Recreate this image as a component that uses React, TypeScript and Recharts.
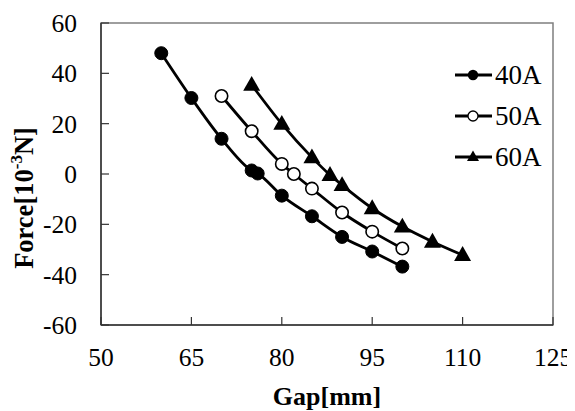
import React from 'react';
import { LineChart, Line, XAxis, YAxis, Legend, ReferenceArea } from 'recharts';

const gap40 = [60, 65, 70, 75, 76, 80, 85, 90, 95, 100];
const force40 = [48, 30.2, 14, 1.4, 0.2, -8.6, -16.8, -25, -30.8, -36.8];
const gap50 = [70, 75, 80, 82, 85, 90, 95, 100];
const force50 = [31, 17, 4, 0, -5.8, -15.3, -22.9, -29.6];
const gap60 = [75, 80, 85, 88, 90, 95, 100, 105, 110];
const force60 = [35.4, 19.9, 6.6, -0.4, -4.4, -13.6, -20.9, -26.9, -32.2];

const xTicks = [50, 65, 80, 95, 110, 125];
const yTicks = [-60, -40, -20, 0, 20, 40, 60];
const seriesNames = ['40A', '50A', '60A'];

const toData = (xs: number[], ys: number[]) => xs.map((x, i) => ({ x, y: ys[i] }));
const data40 = toData(gap40, force40);
const data50 = toData(gap50, force50);
const data60 = toData(gap60, force60);

const FONT = '"Liberation Serif", "Times New Roman", serif';
const FS = 25.5;

const FilledDot = (p: any) => <circle key={p.key} cx={p.cx} cy={p.cy} r={6.5} fill="#000" stroke="#000" strokeWidth={1} />;
const OpenDot = (p: any) => <circle key={p.key} cx={p.cx} cy={p.cy} r={6.2} fill="#fff" stroke="#000" strokeWidth={1.6} />;
const TriDot = (p: any) => {
  const s = 8.5;
  const { cx, cy } = p;
  return <path key={p.key} d={`M${cx},${cy - s * 1.05} L${cx + s},${cy + s * 0.7} L${cx - s},${cy + s * 0.7} Z`} fill="#000" />;
};

const XTick = (p: any) => (
  <text x={p.x} y={p.y + 49} textAnchor="middle" fontFamily={FONT} fontSize={FS} fill="#000">{p.payload.value}</text>
);
const YTick = (p: any) => (
  <text x={p.x - 32} y={p.y + 9} textAnchor="end" fontFamily={FONT} fontSize={FS} fill="#000">{p.payload.value}</text>
);

const YLabel = (p: any) => {
  const vb = p.viewBox || { x: 0, y: 15, width: 93, height: 302 };
  const cx = vb.x + 25;
  const cy = vb.y + vb.height / 2 + 24;
  return (
    <text x={cx} y={cy} transform={`rotate(-90 ${cx} ${cy})`} textAnchor="middle" fontFamily={FONT} fontSize={26.5} fontWeight="bold" fill="#000">
      Force[10<tspan dy={-11} fontSize={17}>-3</tspan><tspan dy={11}>N]</tspan>
    </text>
  );
};

const LegendContent = () => {
  const rows = [0, 1, 2];
  return (
    <svg width={110} height={125} style={{ display: 'block' }}>
      {rows.map((i) => {
        const cy = 20 + i * 41;
        return (
          <g key={i}>
            <line x1={0} x2={37} y1={cy} y2={cy} stroke="#000" strokeWidth={3} />
            {i === 0 && <circle cx={18} cy={cy} r={5.2} fill="#000" />}
            {i === 1 && <circle cx={18} cy={cy} r={5} fill="#fff" stroke="#000" strokeWidth={1.3} />}
            {i === 2 && <path d={`M18,${cy - 6.5} L24,${cy + 4} L12,${cy + 4} Z`} fill="#000" />}
            <text x={40} y={cy + 9} fontFamily={FONT} fontSize={27} fill="#000">{seriesNames[i]}</text>
          </g>
        );
      })}
    </svg>
  );
};

export default function App() {
  return (
    <div style={{ width: 567, height: 403, background: '#fff' }}>
      <LineChart width={567} height={403} margin={{ top: 15, right: 22, left: 0, bottom: 0 }}>
        <ReferenceArea x1={50} x2={125} y1={-60} y2={60} fill="none" stroke="#7f7f7f" strokeWidth={1.5} ifOverflow="visible" />
        <XAxis
          type="number"
          dataKey="x"
          domain={[50, 125]}
          ticks={xTicks}
          interval={0}
          allowDataOverflow
          height={86}
          tickSize={-8}
          tickMargin={0}
          tick={<XTick />}
          axisLine={{ stroke: '#333', strokeWidth: 1.5 }}
          tickLine={{ stroke: '#333', strokeWidth: 1.2 }}
          label={{ value: 'Gap[mm]', position: 'insideBottom', offset: 6, style: { fontFamily: FONT, fontSize: 26, fontWeight: 'bold', fill: '#000' } }}
        />
        <YAxis
          type="number"
          domain={[-60, 60]}
          ticks={yTicks}
          interval={0}
          allowDataOverflow
          width={93}
          tickSize={-8}
          tickMargin={0}
          tick={<YTick />}
          axisLine={{ stroke: '#333', strokeWidth: 1.5 }}
          tickLine={{ stroke: '#333', strokeWidth: 1.2 }}
          label={{ content: (p: any) => <YLabel {...p} /> }}
        />
        <Legend
          layout="vertical"
          align="center"
          verticalAlign="middle"
          content={() => <LegendContent />}
          wrapperStyle={{ position: 'absolute', left: 447, top: 47, width: 110, height: 125 }}
        />
        <Line data={data40} dataKey="y" type="monotone" stroke="#000" strokeWidth={2.8} dot={FilledDot} isAnimationActive={false} />
        <Line data={data50} dataKey="y" type="monotone" stroke="#000" strokeWidth={2.8} dot={OpenDot} isAnimationActive={false} />
        <Line data={data60} dataKey="y" type="monotone" stroke="#000" strokeWidth={2.8} dot={TriDot} isAnimationActive={false} />
      </LineChart>
    </div>
  );
}
